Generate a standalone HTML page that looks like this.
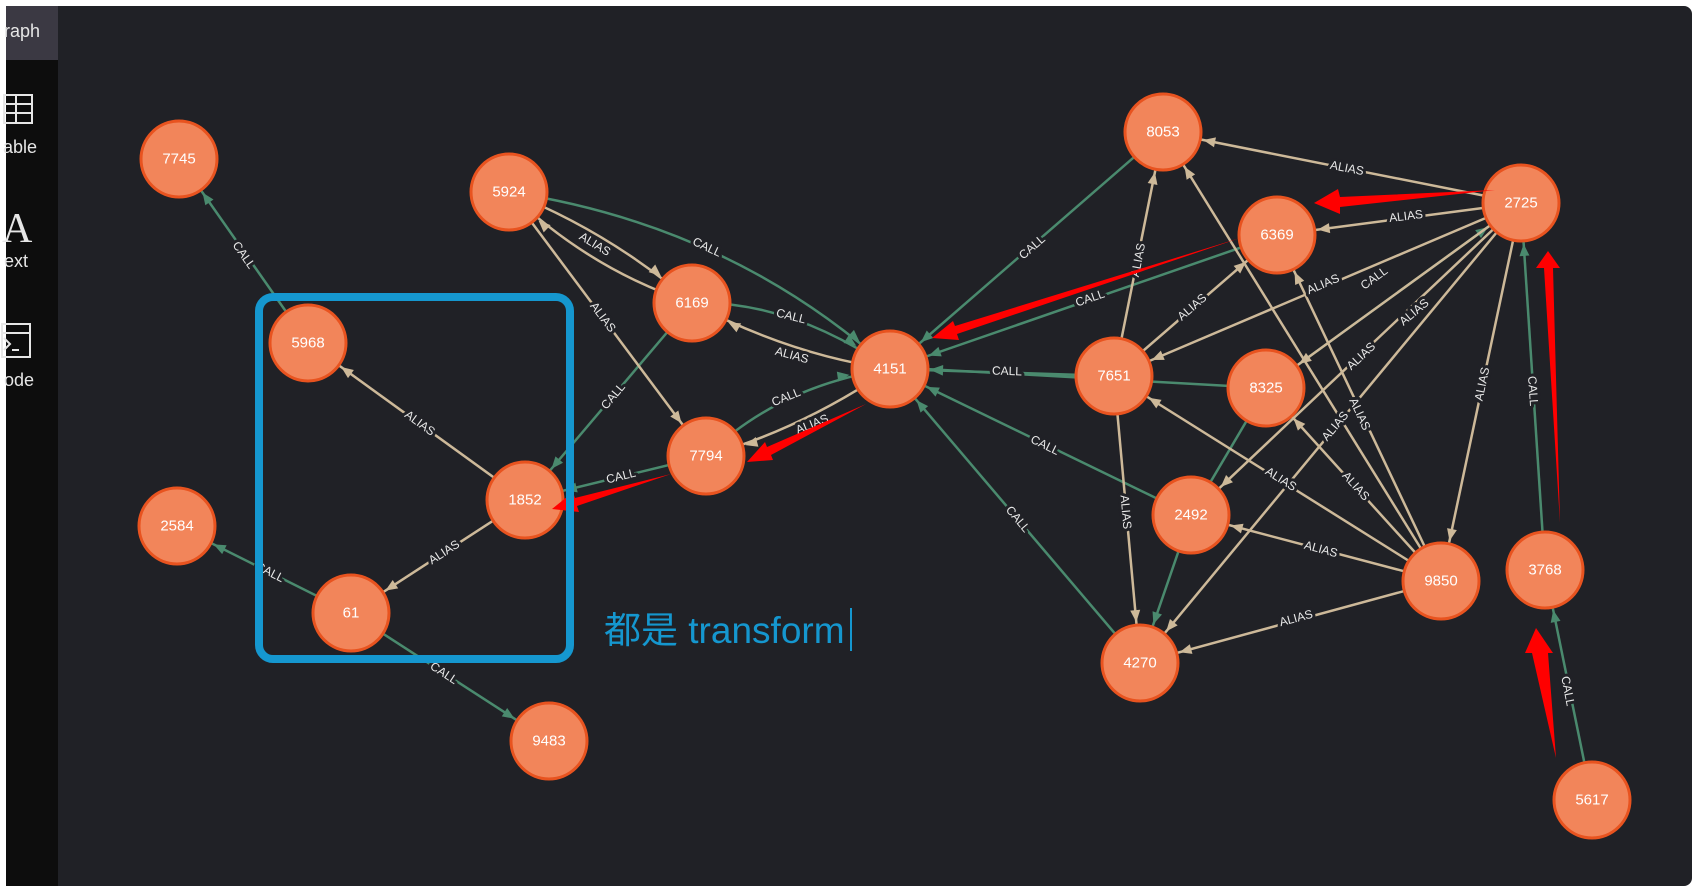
<!DOCTYPE html>
<html><head><meta charset="utf-8"><style>
html,body{margin:0;padding:0;background:#fff;}
body{width:1698px;height:892px;overflow:hidden;position:relative;font-family:"Liberation Sans","Noto Sans CJK SC",sans-serif;}
.lbl{font-family:"Liberation Sans",sans-serif;font-size:12px;fill:#e8e8e8;stroke:#202126;stroke-width:6px;paint-order:stroke;stroke-linejoin:round;text-anchor:middle;dominant-baseline:central;}
.nt{font-family:"Liberation Sans",sans-serif;font-size:15px;fill:#fff;text-anchor:middle;dominant-baseline:central;}
.side{font-family:"Liberation Sans",sans-serif;font-size:18px;fill:#e6e6e6;}
</style></head><body>
<svg width="1698" height="892" viewBox="0 0 1698 892" xmlns="http://www.w3.org/2000/svg" style="position:absolute;left:0;top:0">
<defs>
<marker id="g" markerUnits="userSpaceOnUse" viewBox="0 0 12 10" markerWidth="12" markerHeight="10" refX="53" refY="5" orient="auto" overflow="visible"><path d="M0,0 L12,5 L0,10 z" fill="#4a8a6e"/></marker>
<marker id="t" markerUnits="userSpaceOnUse" viewBox="0 0 12 10" markerWidth="12" markerHeight="10" refX="53" refY="5" orient="auto" overflow="visible"><path d="M0,0 L12,5 L0,10 z" fill="#cdb999"/></marker>
</defs>
<rect x="6" y="6" width="1686" height="880" rx="8" fill="#202126"/>
<rect x="6" y="6" width="52" height="880" fill="#0d0d0d"/>
<rect x="6" y="6" width="52" height="54" fill="#3b3943"/>
<text class="side" x="4" y="37">raph</text>
<rect x="4" y="95" width="28" height="28" fill="none" stroke="#e6e6e6" stroke-width="2"/>
<line x1="4" y1="104" x2="32" y2="104" stroke="#e6e6e6" stroke-width="2"/><line x1="4" y1="113" x2="32" y2="113" stroke="#e6e6e6" stroke-width="2"/><line x1="16" y1="95" x2="16" y2="123" stroke="#e6e6e6" stroke-width="2"/>
<text class="side" x="3" y="153">able</text>
<text x="2" y="242" style="font-family:'Liberation Serif',serif;font-size:42px;fill:#e6e6e6">A</text>
<text class="side" x="4" y="267">ext</text>
<rect x="2" y="324" width="28" height="33" fill="none" stroke="#e6e6e6" stroke-width="2"/><line x1="2" y1="333" x2="30" y2="333" stroke="#e6e6e6" stroke-width="2"/>
<path d="M4,338 L10,344 L4,350 M12,350 L19,350" fill="none" stroke="#e6e6e6" stroke-width="2"/>
<text class="side" x="4" y="386">ode</text>

<g stroke-width="2.5" fill="none">
<line x1="308" y1="343" x2="179" y2="159" stroke="#4a8a6e" marker-end="url(#g)"/>
<line x1="525" y1="500" x2="308" y2="343" stroke="#cdb999" marker-end="url(#t)"/>
<line x1="525" y1="500" x2="351" y2="613" stroke="#cdb999" marker-end="url(#t)"/>
<line x1="351" y1="613" x2="177" y2="526" stroke="#4a8a6e" marker-end="url(#g)"/>
<line x1="351" y1="613" x2="549" y2="741" stroke="#4a8a6e" marker-end="url(#g)"/>
<line x1="692" y1="303" x2="525" y2="500" stroke="#4a8a6e" marker-end="url(#g)"/>
<line x1="706" y1="456" x2="525" y2="500" stroke="#4a8a6e" marker-end="url(#g)"/>
<line x1="509" y1="192" x2="706" y2="456" stroke="#cdb999" marker-end="url(#t)"/>
<path d="M509,192 Q610,232 692,303" stroke="#cdb999" marker-end="url(#t)"/>
<path d="M692,303 Q590,270 509,192" stroke="#cdb999" marker-end="url(#t)"/>
<path d="M509,192 Q730,225 890,369" stroke="#4a8a6e" marker-end="url(#g)"/>
<path d="M692,303 Q790,300 890,369" stroke="#4a8a6e" marker-end="url(#g)"/>
<path d="M890,369 Q790,355 692,303" stroke="#cdb999" marker-end="url(#t)"/>
<path d="M706,456 Q780,385 890,369" stroke="#4a8a6e" marker-end="url(#g)"/>
<path d="M890,369 Q800,430 706,456" stroke="#cdb999" marker-end="url(#t)"/>
<line x1="1163" y1="132" x2="890" y2="369" stroke="#4a8a6e" marker-end="url(#g)"/>
<line x1="1277" y1="235" x2="890" y2="369" stroke="#4a8a6e" marker-end="url(#g)"/>
<line x1="1114" y1="376" x2="890" y2="369" stroke="#4a8a6e" marker-end="url(#g)"/>
<line x1="1266" y1="388" x2="890" y2="367" stroke="#4a8a6e" marker-end="url(#g)"/>
<line x1="1191" y1="515" x2="890" y2="369" stroke="#4a8a6e" marker-end="url(#g)"/>
<line x1="1140" y1="663" x2="890" y2="369" stroke="#4a8a6e" marker-end="url(#g)"/>
<line x1="1114" y1="376" x2="1163" y2="132" stroke="#cdb999" marker-end="url(#t)"/>
<line x1="1114" y1="376" x2="1277" y2="235" stroke="#cdb999" marker-end="url(#t)"/>
<line x1="1521" y1="203" x2="1277" y2="235" stroke="#cdb999" marker-end="url(#t)"/>
<line x1="1521" y1="203" x2="1163" y2="132" stroke="#cdb999" marker-end="url(#t)"/>
<line x1="1521" y1="203" x2="1114" y2="376" stroke="#cdb999" marker-end="url(#t)"/>
<line x1="1266" y1="388" x2="1521" y2="203" stroke="#4a8a6e" marker-end="url(#g)"/>
<line x1="1521" y1="203" x2="1266" y2="388" stroke="#cdb999" marker-end="url(#t)"/>
<line x1="1521" y1="203" x2="1191" y2="515" stroke="#cdb999" marker-end="url(#t)"/>
<line x1="1521" y1="203" x2="1140" y2="663" stroke="#cdb999" marker-end="url(#t)"/>
<line x1="1521" y1="203" x2="1441" y2="581" stroke="#cdb999" marker-end="url(#t)"/>
<line x1="1545" y1="570" x2="1521" y2="203" stroke="#4a8a6e" marker-end="url(#g)"/>
<line x1="1592" y1="800" x2="1545" y2="570" stroke="#4a8a6e" marker-end="url(#g)"/>
<line x1="1266" y1="388" x2="1191" y2="515" stroke="#4a8a6e"/>
<line x1="1191" y1="515" x2="1140" y2="663" stroke="#4a8a6e" marker-end="url(#g)"/>
<line x1="1114" y1="376" x2="1140" y2="663" stroke="#cdb999" marker-end="url(#t)"/>
<line x1="1441" y1="581" x2="1191" y2="515" stroke="#cdb999" marker-end="url(#t)"/>
<line x1="1441" y1="581" x2="1140" y2="663" stroke="#cdb999" marker-end="url(#t)"/>
<line x1="1441" y1="581" x2="1114" y2="376" stroke="#cdb999" marker-end="url(#t)"/>
<line x1="1441" y1="581" x2="1266" y2="388" stroke="#cdb999" marker-end="url(#t)"/>
<line x1="1441" y1="581" x2="1277" y2="235" stroke="#cdb999" marker-end="url(#t)"/>
<line x1="1441" y1="581" x2="1163" y2="132" stroke="#cdb999" marker-end="url(#t)"/>
</g>

<g>
<text class="lbl" transform="translate(244,255) rotate(55)">CALL</text>
<text class="lbl" transform="translate(420,423) rotate(36)">ALIAS</text>
<text class="lbl" transform="translate(444,552) rotate(-33)">ALIAS</text>
<text class="lbl" transform="translate(270,572) rotate(27)">CALL</text>
<text class="lbl" transform="translate(444,673) rotate(33)">CALL</text>
<text class="lbl" transform="translate(613,396) rotate(-50)">CALL</text>
<text class="lbl" transform="translate(621,476) rotate(-14)">CALL</text>
<text class="lbl" transform="translate(603,317) rotate(53)">ALIAS</text>
<text class="lbl" transform="translate(595,244) rotate(31)">ALIAS</text>
<text class="lbl" transform="translate(707,247) rotate(25)">CALL</text>
<text class="lbl" transform="translate(791,316) rotate(14)">CALL</text>
<text class="lbl" transform="translate(792,355) rotate(15)">ALIAS</text>
<text class="lbl" transform="translate(786,397) rotate(-22)">CALL</text>
<text class="lbl" transform="translate(812,424) rotate(-22)">ALIAS</text>
<text class="lbl" transform="translate(1032,247) rotate(-41)">CALL</text>
<text class="lbl" transform="translate(1090,298) rotate(-19)">CALL</text>
<text class="lbl" transform="translate(1007,371) rotate(2)">CALL</text>
<text class="lbl" transform="translate(1045,445) rotate(26)">CALL</text>
<text class="lbl" transform="translate(1018,519) rotate(50)">CALL</text>
<text class="lbl" transform="translate(1138,260) rotate(-79)">ALIAS</text>
<text class="lbl" transform="translate(1192,307) rotate(-41)">ALIAS</text>
<text class="lbl" transform="translate(1406,216) rotate(-7)">ALIAS</text>
<text class="lbl" transform="translate(1347,168) rotate(11)">ALIAS</text>
<text class="lbl" transform="translate(1323,284) rotate(-23)">ALIAS</text>
<text class="lbl" transform="translate(1374,278) rotate(-36)">CALL</text>
<text class="lbl" transform="translate(1414,312) rotate(-40)">ALIAS</text>
<text class="lbl" transform="translate(1361,356) rotate(-43)">ALIAS</text>
<text class="lbl" transform="translate(1335,426) rotate(-50)">ALIAS</text>
<text class="lbl" transform="translate(1482,384) rotate(-78)">ALIAS</text>
<text class="lbl" transform="translate(1533,391) rotate(86)">CALL</text>
<text class="lbl" transform="translate(1568,691) rotate(79)">CALL</text>
<text class="lbl" transform="translate(1126,512) rotate(85)">ALIAS</text>
<text class="lbl" transform="translate(1321,549) rotate(15)">ALIAS</text>
<text class="lbl" transform="translate(1296,618) rotate(-15)">ALIAS</text>
<text class="lbl" transform="translate(1281,479) rotate(32)">ALIAS</text>
<text class="lbl" transform="translate(1356,486) rotate(48)">ALIAS</text>
<text class="lbl" transform="translate(1360,414) rotate(65)">ALIAS</text>
</g>

<g stroke="#e8531f" stroke-width="3" fill="#f2855a">
<circle cx="179" cy="159" r="38"/><circle cx="509" cy="192" r="38"/><circle cx="308" cy="343" r="38"/>
<circle cx="692" cy="303" r="38"/><circle cx="890" cy="369" r="38"/><circle cx="706" cy="456" r="38"/>
<circle cx="525" cy="500" r="38"/><circle cx="177" cy="526" r="38"/><circle cx="351" cy="613" r="38"/>
<circle cx="549" cy="741" r="38"/><circle cx="1163" cy="132" r="38"/><circle cx="1277" cy="235" r="38"/>
<circle cx="1521" cy="203" r="38"/><circle cx="1114" cy="376" r="38"/><circle cx="1266" cy="388" r="38"/>
<circle cx="1191" cy="515" r="38"/><circle cx="1441" cy="581" r="38"/><circle cx="1545" cy="570" r="38"/>
<circle cx="1140" cy="663" r="38"/><circle cx="1592" cy="800" r="38"/>
</g>
<g>
<text class="nt" x="179" y="159">7745</text><text class="nt" x="509" y="192">5924</text><text class="nt" x="308" y="343">5968</text>
<text class="nt" x="692" y="303">6169</text><text class="nt" x="890" y="369">4151</text><text class="nt" x="706" y="456">7794</text>
<text class="nt" x="525" y="500">1852</text><text class="nt" x="177" y="526">2584</text><text class="nt" x="351" y="613">61</text>
<text class="nt" x="549" y="741">9483</text><text class="nt" x="1163" y="132">8053</text><text class="nt" x="1277" y="235">6369</text>
<text class="nt" x="1521" y="203">2725</text><text class="nt" x="1114" y="376">7651</text><text class="nt" x="1266" y="388">8325</text>
<text class="nt" x="1191" y="515">2492</text><text class="nt" x="1441" y="581">9850</text><text class="nt" x="1545" y="570">3768</text>
<text class="nt" x="1140" y="663">4270</text><text class="nt" x="1592" y="800">5617</text>
</g>

<g fill="#ff0000">
<polygon points="1495,190 1340,197 1338,189 1314,203 1340,214 1340,207"/>
<polygon points="1240,238 955,326 953,321 932,338 959,340 957,334"/>
<polygon points="866,404 767,447 765,442 747,462 773,460 771,455"/>
<polygon points="671,474 575,498 573,492 552,509 579,512 577,506"/>
<polygon points="1560,523 1553,268 1560,268 1548,251 1536,268 1544,268"/>
<polygon points="1556,758 1548,653 1553,653 1536,628 1525,653 1532,653"/>
</g>

<rect x="259" y="297" width="311" height="362" rx="14" fill="none" stroke="#1597cf" stroke-width="8"/>
<text x="604" y="643" style="font-family:'Liberation Sans','Noto Sans CJK SC',sans-serif;font-size:37px;fill:#1597cf">都是 transform</text>
<line x1="851" y1="608" x2="851" y2="651" stroke="#1597cf" stroke-width="2"/>
</svg>
</body></html>
